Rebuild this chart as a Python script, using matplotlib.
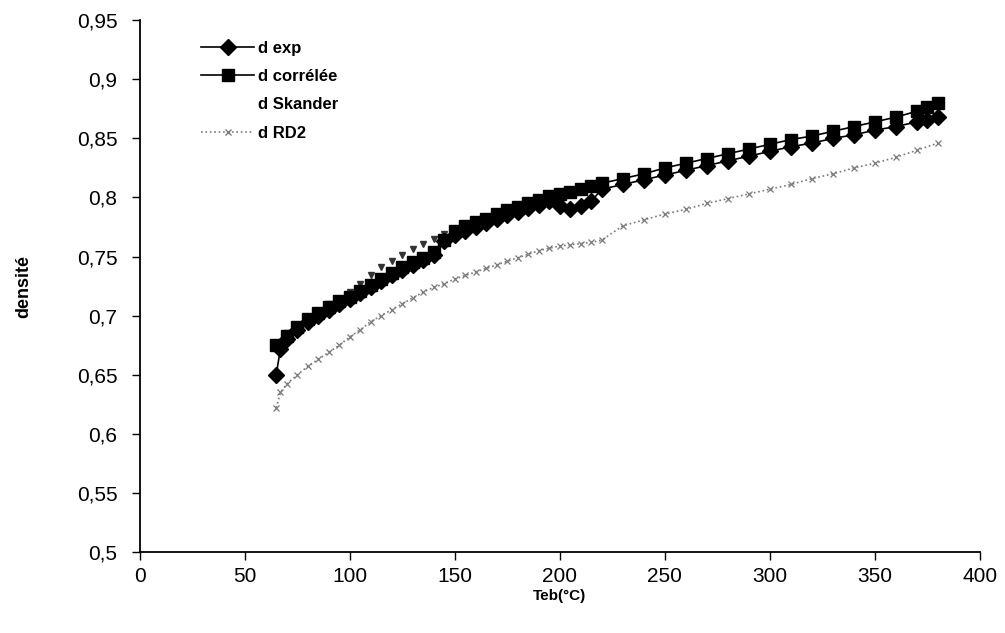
import matplotlib
matplotlib.use("Agg")
import matplotlib.pyplot as plt
from matplotlib.lines import Line2D
from matplotlib.ticker import FuncFormatter

plt.rcParams['font.family'] = ['Liberation Sans', 'DejaVu Sans']

# d exp (diamants)
t_exp = [65, 67, 70, 75, 80, 85, 90, 95, 100, 105, 110, 115, 120, 125, 130, 135, 140,
         145, 150, 155, 160, 165, 170, 175, 180, 185, 190, 195, 200, 205, 210, 215,
         220, 230, 240, 250, 260, 270, 280, 290, 300, 310, 320, 330, 340, 350, 360, 370, 375, 380]
d_exp = [0.650, 0.672, 0.680, 0.688, 0.695, 0.700, 0.705, 0.710, 0.714, 0.719, 0.724, 0.729, 0.734,
         0.739, 0.743, 0.747, 0.751, 0.763, 0.768, 0.772, 0.775, 0.778, 0.782, 0.785, 0.788, 0.791,
         0.794, 0.797, 0.793, 0.790, 0.793, 0.797, 0.807, 0.811, 0.815, 0.819, 0.823, 0.827, 0.831,
         0.835, 0.839, 0.843, 0.846, 0.850, 0.853, 0.857, 0.860, 0.864, 0.866, 0.868]

# d corrélée (carrés)
t_corr = [65, 70, 75, 80, 85, 90, 95, 100, 105, 110, 115, 120, 125, 130, 135, 140, 145, 150,
          155, 160, 165, 170, 175, 180, 185, 190, 195, 200, 205, 210, 215, 220, 230, 240, 250,
          260, 270, 280, 290, 300, 310, 320, 330, 340, 350, 360, 370, 375, 380]
d_corr = [0.675, 0.683, 0.690, 0.697, 0.702, 0.707, 0.712, 0.716, 0.721, 0.726, 0.731, 0.736,
          0.741, 0.745, 0.749, 0.754, 0.764, 0.772, 0.776, 0.779, 0.782, 0.786, 0.789, 0.792,
          0.795, 0.798, 0.801, 0.803, 0.805, 0.807, 0.810, 0.812, 0.816, 0.820, 0.825, 0.829,
          0.833, 0.837, 0.841, 0.845, 0.849, 0.852, 0.856, 0.860, 0.864, 0.868, 0.873, 0.877, 0.880]

# d Skander
t_sk = [65, 70, 80, 90, 100, 105, 110, 115, 120, 125, 130, 135, 140, 145, 150, 160, 170, 180,
        190, 200, 210, 220]
d_sk = [0.676, 0.685, 0.699, 0.710, 0.720, 0.727, 0.734, 0.741, 0.746, 0.751, 0.756, 0.761,
        0.765, 0.769, 0.773, 0.780, 0.787, 0.793, 0.799, 0.804, 0.808, 0.813]

# d RD2
t_rd2 = [65, 67, 70, 75, 80, 85, 90, 95, 100, 105, 110, 115, 120, 125, 130, 135, 140, 145, 150,
         155, 160, 165, 170, 175, 180, 185, 190, 195, 200, 205, 210, 215, 220, 230, 240, 250,
         260, 270, 280, 290, 300, 310, 320, 330, 340, 350, 360, 370, 380]
d_rd2 = [0.622, 0.635, 0.642, 0.650, 0.657, 0.663, 0.669, 0.675, 0.682, 0.688, 0.695, 0.700,
         0.705, 0.710, 0.715, 0.720, 0.724, 0.727, 0.731, 0.734, 0.737, 0.740, 0.743, 0.746,
         0.749, 0.752, 0.755, 0.757, 0.759, 0.760, 0.761, 0.762, 0.764, 0.776, 0.781, 0.786,
         0.790, 0.795, 0.799, 0.803, 0.807, 0.811, 0.816, 0.820, 0.825, 0.829, 0.834, 0.840, 0.846]

fig = plt.figure(figsize=(10.05, 6.33), dpi=100)
ax = fig.add_axes([0.139, 0.128, 0.836, 0.840])

ax.plot(t_rd2, d_rd2, color='#7a7a7a', linestyle=':', linewidth=1.2,
        marker='x', markersize=5, markeredgewidth=0.9, zorder=2)
ax.plot(t_sk, d_sk, color='#333333', linestyle='none', marker='v', markersize=4, zorder=2)
ax.plot(t_corr, d_corr, color='black', linewidth=1.2, marker='s', markersize=8, zorder=3)
ax.plot(t_exp, d_exp, color='black', linewidth=1.2, marker='D', markersize=8, zorder=4)

ax.set_xlim(0, 400)
ax.set_ylim(0.5, 0.95)
ax.set_xticks(range(0, 401, 50))
ax.set_yticks([0.5, 0.55, 0.6, 0.65, 0.7, 0.75, 0.8, 0.85, 0.9, 0.95])
ax.yaxis.set_major_formatter(FuncFormatter(lambda v, p: ('%g' % round(v, 2)).replace('.', ',')))
ax.tick_params(axis='both', direction='out', length=6, width=1, labelsize=15)
ax.tick_params(axis='x', pad=5)
ax.tick_params(axis='y', pad=10)
ax.spines['top'].set_visible(False)
ax.spines['right'].set_visible(False)
ax.spines['left'].set_linewidth(1.3)
ax.spines['bottom'].set_linewidth(1.3)

ax.set_xlabel('Teb(°C)', fontsize=11, fontweight='bold', labelpad=2)
ax.set_ylabel('densité', fontsize=13, fontweight='bold', labelpad=32)

handles = [
    Line2D([], [], color='black', linewidth=1.2, marker='D', markersize=8),
    Line2D([], [], color='black', linewidth=1.2, marker='s', markersize=8),
    Line2D([], [], color='none'),
    Line2D([], [], color='#7a7a7a', linestyle=':', linewidth=1.2, marker='x', markersize=5),
]
labels = ['d exp', 'd corrélée', 'd Skander', 'd RD2']
ax.legend(handles, labels, loc='upper left', bbox_to_anchor=(0.055, 0.99), frameon=False,
          prop={'size': 12, 'weight': 'bold'}, handlelength=3.2, handletextpad=0.2,
          labelspacing=0.8)

fig.savefig('out.png', dpi=100)
